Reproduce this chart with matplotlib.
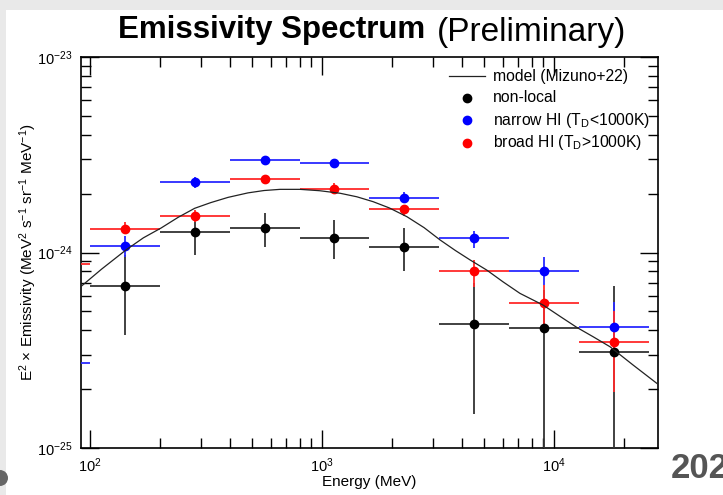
import numpy as np
import matplotlib
matplotlib.use("Agg")
import matplotlib.pyplot as plt
from matplotlib.lines import Line2D
from matplotlib.patches import Rectangle, Circle

plt.rcParams['font.family'] = ['Liberation Sans', 'DejaVu Sans']
plt.rcParams['mathtext.fontset'] = 'custom'
plt.rcParams['mathtext.rm'] = 'Liberation Sans'
plt.rcParams['mathtext.it'] = 'Liberation Sans'

# ---- data ----
bin_lo = [50, 100, 200, 400, 800, 1600, 3200, 6400, 12800]
bin_hi = [100, 200, 400, 800, 1600, 3200, 6400, 12800, 25600]

nonlocal_val = [np.nan, 6.75e-25, 1.273e-24, 1.334e-24, 1.183e-24, 1.072e-24, 4.33e-25, 4.12e-25, 3.09e-25]
nonlocal_hi  = [np.nan, 9.70e-25, 1.50e-24, 1.585e-24, 1.462e-24, 1.34e-24, 6.98e-25, 6.43e-25, 6.75e-25]
nonlocal_lo  = [np.nan, 3.79e-25, 9.70e-25, 1.064e-24, 9.23e-25, 8.04e-25, 1.50e-25, 1e-27, 1e-27]

narrow_val = [2.72e-25, 1.084e-24, 2.285e-24, 2.96e-24, 2.88e-24, 1.905e-24, 1.183e-24, 8.07e-25, 4.17e-25]
narrow_hi  = [3.0e-25, 1.21e-24, 2.43e-24, 3.07e-24, 2.99e-24, 2.04e-24, 1.294e-24, 9.45e-25, 5.60e-25]
narrow_lo  = [2.4e-25, 9.48e-25, 2.14e-24, 2.84e-24, 2.77e-24, 1.81e-24, 1.05e-24, 6.82e-25, 2.99e-25]

broad_val = [8.73e-25, 1.318e-24, 1.542e-24, 2.377e-24, 2.118e-24, 1.663e-24, 8.04e-25, 5.50e-25, 3.50e-25]
broad_hi  = [9.5e-25, 1.432e-24, 1.648e-24, 2.49e-24, 2.26e-24, 1.75e-24, 9.15e-25, 6.82e-25, 5.04e-25]
broad_lo  = [8.0e-25, 1.258e-24, 1.432e-24, 2.26e-24, 2.01e-24, 1.54e-24, 6.68e-25, 4.11e-25, 1.94e-25]

model_logE = [1.960, 2.05, 2.155, 2.23, 2.306, 2.38, 2.451, 2.52, 2.595, 2.681, 2.75, 2.819,
              2.905, 2.99, 3.078, 3.15, 3.220, 3.29, 3.366, 3.44, 3.509, 3.575, 3.638, 3.710,
              3.78, 3.853, 3.953, 4.03, 4.098, 4.17, 4.241, 4.34, 4.447]
model_logY = [-24.175, -24.085, -23.987, -23.925, -23.875, -23.82, -23.774, -23.745, -23.718, -23.695,
              -23.683, -23.677, -23.677, -23.684, -23.697, -23.715, -23.740, -23.772, -23.817, -23.873,
              -23.936, -23.99, -24.038, -24.090, -24.15, -24.209, -24.269, -24.33, -24.383, -24.432,
              -24.482, -24.575, -24.673]

legend_labels = ['model (Mizuno+22)', 'non-local',
                 r'narrow HI (T$_{\mathrm{D}}$<1000K)', r'broad HI (T$_{\mathrm{D}}$>1000K)']

# ---- figure ----
W, H = 723, 495
fig = plt.figure(figsize=(W / 100, H / 100), dpi=100, facecolor='#e9e9e9')
bg = fig.add_axes([0, 0, 1, 1], zorder=-5)
bg.set_xlim(0, W)
bg.set_ylim(H, 0)
bg.axis('off')
bg.add_patch(Rectangle((6, 10), W, H, facecolor='white', edgecolor='none'))
bg.add_patch(Circle((0, 478), 8, facecolor='#666666', edgecolor='none'))

ax = fig.add_axes([81 / W, 1 - 448 / H, (658 - 81) / W, (448 - 57) / H], zorder=5)
ax.patch.set_alpha(0)
ax.set_xscale('log')
ax.set_yscale('log')
ax.set_xlim(10 ** 1.9612, 10 ** 4.448)
ax.set_ylim(1e-25, 1e-23)

lo = np.array(bin_lo, float)
hi = np.array(bin_hi, float)
ctr = np.sqrt(lo * hi)
xerr = [ctr - lo, hi - ctr]

def draw(vals, his, los, color, ecolor):
    v = np.array(vals)
    yerr = [v - np.array(los), np.array(his) - v]
    ax.errorbar(ctr, v, xerr=xerr, yerr=yerr, fmt='o', color=color, ecolor=ecolor,
                elinewidth=1.3, markersize=6, capsize=0, zorder=3)

draw(nonlocal_val, nonlocal_hi, nonlocal_lo, 'black', '#333333')
draw(narrow_val, narrow_hi, narrow_lo, '#0000ff', '#2a2aff')
draw(broad_val, broad_hi, broad_lo, '#ff0000', '#ff2a2a')

ax.plot(10 ** np.array(model_logE), 10 ** np.array(model_logY), color='#222222', lw=0.9, zorder=4)

# ticks ROOT-like
ax.tick_params(which='both', direction='in', top=True, right=True, labelsize=10.5, pad=6)
ax.tick_params(which='major', length=13, width=1.0)
ax.tick_params(which='minor', length=7, width=1.0)
for s in ax.spines.values():
    s.set_linewidth(1.2)

ax.set_xlabel('Energy (MeV)', fontsize=11, labelpad=0)
ax.set_ylabel(r'E$^2$ $\times$ Emissivity (MeV$^2$ s$^{-1}$ sr$^{-1}$ MeV$^{-1}$)', fontsize=11, labelpad=-1)

# legend (ROOT-style, placed in the background pixel frame)
rows_y = [76, 98, 120, 143]
bg.plot([449, 485], [rows_y[0], rows_y[0]], color='#222222', lw=0.9)
for yy, c in zip(rows_y[1:], ['black', '#0000ff', '#ff0000']):
    bg.plot([467], [yy], marker='o', color=c, ms=6, ls='none')
for yy, lab in zip(rows_y, legend_labels):
    bg.text(493, yy, lab, fontsize=11.3, ha='left', va='center')

# title
fig.text(425 / W, 1 - 30 / H, 'Emissivity Spectrum', fontsize=22.5, fontweight='bold',
         ha='right', va='center', family=['Liberation Sans Narrow', 'Liberation Sans'])
fig.text(437 / W, 1 - 33 / H, '(Preliminary)', fontsize=24,
         ha='left', va='center', family=['Liberation Sans Narrow', 'Liberation Sans'])

fig.text(1 - 52 / W, 1 - 468 / H, '202', fontsize=25, fontweight='bold', color='#555555',
         ha='left', va='center', family=['Liberation Sans Narrow', 'Liberation Sans'])

fig.savefig('out.png', dpi=100, facecolor=fig.get_facecolor())
